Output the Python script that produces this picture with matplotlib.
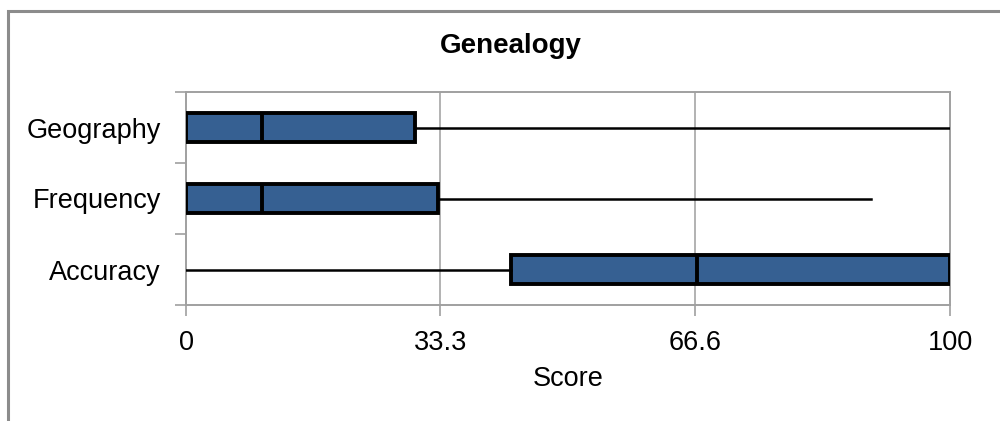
import matplotlib
matplotlib.use("Agg")
import matplotlib.pyplot as plt
from matplotlib.patches import Rectangle

plt.rcParams['font.family'] = ['Liberation Sans', 'DejaVu Sans']

categories = ["Accuracy", "Frequency", "Geography"]
whislo = [0, 0, 0]
q1 = [42.5, 0, 0]
med = [66.9, 10, 10]
q3 = [100, 33, 30]
whishi = [100, 89.6, 100]
xticks = [0, 33.3, 66.6, 100]
xticklabels = ["0", "33.3", "66.6", "100"]
title = "Genealogy"
xlabel = "Score"

fig = plt.figure(figsize=(10, 4.21), dpi=100)
ax = fig.add_axes([0.186, 1 - 305 / 421, 0.764, (305 - 92) / 421])

# outer frame
fig.patches.append(Rectangle((8 / 1000, -0.1), 1.2, 1 - 11 / 421 + 0.1,
                             transform=fig.transFigure, fill=False,
                             edgecolor="#8c8c8c", linewidth=2.2))

stats = []
for i in range(len(categories)):
    stats.append(dict(label=categories[i], whislo=whislo[i], q1=q1[i],
                      med=med[i], q3=q3[i], whishi=whishi[i], fliers=[]))

positions = [0.5, 1.5, 2.5]
ax.bxp(stats, positions=positions, widths=0.41, vert=False, showcaps=False,
       patch_artist=True, showfliers=False,
       boxprops=dict(facecolor="#366092", edgecolor="black", linewidth=2.8),
       medianprops=dict(color="black", linewidth=2.8),
       whiskerprops=dict(color="black", linewidth=1.8), zorder=3)

ax.set_xlim(0, 100)
ax.set_ylim(0, 3)
ax.set_xticks(xticks)
ax.set_xticklabels(xticklabels, fontsize=19.5)
ax.set_yticks(positions)
ax.set_yticklabels(categories, fontsize=19.5)
ax.set_yticks([0, 1, 2, 3], minor=True)
ax.tick_params(axis="y", which="major", length=0, pad=18)
ax.tick_params(axis="y", which="minor", length=8, width=1.2, color="#a0a0a0", direction="out")
ax.tick_params(axis="x", length=8, width=1.2, color="#a0a0a0", pad=10)
for x in xticks[1:3]:
    ax.axvline(x, color="#a6a6a6", linewidth=1.2, zorder=1)
for s in ax.spines.values():
    s.set_color("#a0a0a0")
    s.set_linewidth(1.4)

ax.set_xlabel(xlabel, fontsize=19.5, labelpad=7)
fig.text(0.511, 1 - 46 / 421, title, fontsize=20, fontweight="bold",
         ha="center", va="center")

fig.savefig("out.png", dpi=100)
